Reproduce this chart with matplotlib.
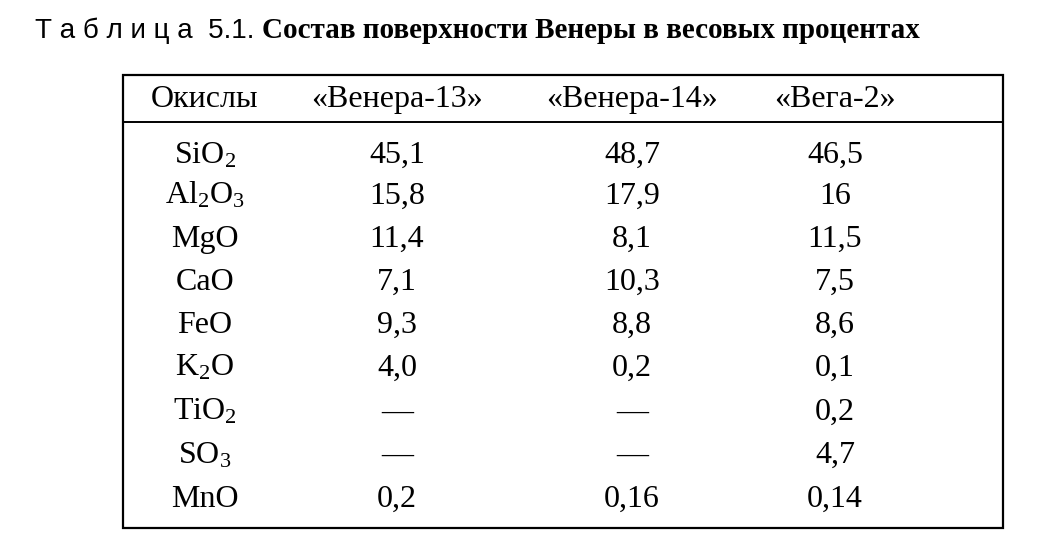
import matplotlib
matplotlib.use("Agg")
import matplotlib.pyplot as plt
from matplotlib.lines import Line2D

plt.rcParams['font.family'] = ['Liberation Serif', 'DejaVu Serif']
plt.rcParams['mathtext.fontset'] = 'custom'
plt.rcParams['mathtext.rm'] = 'Liberation Serif'
plt.rcParams['mathtext.it'] = 'Liberation Serif'

headers = ["Окислы", "«Венера-13»", "«Венера-14»", "«Вега-2»"]
oxides = ["SiO$_\\mathrm{2}$", "Al$_\\mathrm{2}$O$_\\mathrm{3}$", "MgO", "CaO", "FeO",
          "K$_\\mathrm{2}$O", "TiO$_\\mathrm{2}$", "SO$_\\mathrm{3}$", "MnO"]
venera13 = ["45,1", "15,8", "11,4", "7,1", "9,3", "4,0", "—", "—", "0,2"]
venera14 = ["48,7", "17,9", "8,1", "10,3", "8,8", "0,2", "—", "—", "0,16"]
vega2 = ["46,5", "16", "11,5", "7,5", "8,6", "0,1", "0,2", "4,7", "0,14"]

W, H = 1052, 560
fig = plt.figure(figsize=(W / 100, H / 100), dpi=100)
ax = fig.add_axes([0, 0, 1, 1])
ax.set_xlim(0, W); ax.set_ylim(H, 0); ax.axis("off")

ax.text(35, 38, "Т а б л и ц а  5.1.", fontsize=20, va="baseline", ha="left",
        family=['Liberation Sans', 'DejaVu Sans'])
ax.text(262, 38, "Состав поверхности Венеры в весовых процентах", fontsize=21,
        fontweight="bold", va="baseline", ha="left")

ax.add_patch(plt.Rectangle((123, 75), 880, 453, fill=False, lw=1.6, color="black"))
ax.add_line(Line2D([123, 1003], [122, 122], lw=1.4, color="black"))

col_x = [205, 397, 632, 835]
fs = 23
for x, h in zip(col_x, headers):
    ax.text(x, 107, h, fontsize=fs, ha="center", va="baseline")

row_y = [153, 194, 237, 280, 323, 366, 410, 453, 497]
for i, y in enumerate(row_y):
    for x, v in zip(col_x, [oxides[i], venera13[i], venera14[i], vega2[i]]):
        ax.text(x, y + 10, v, fontsize=fs, ha="center", va="baseline")

fig.savefig("out.png", dpi=100)
